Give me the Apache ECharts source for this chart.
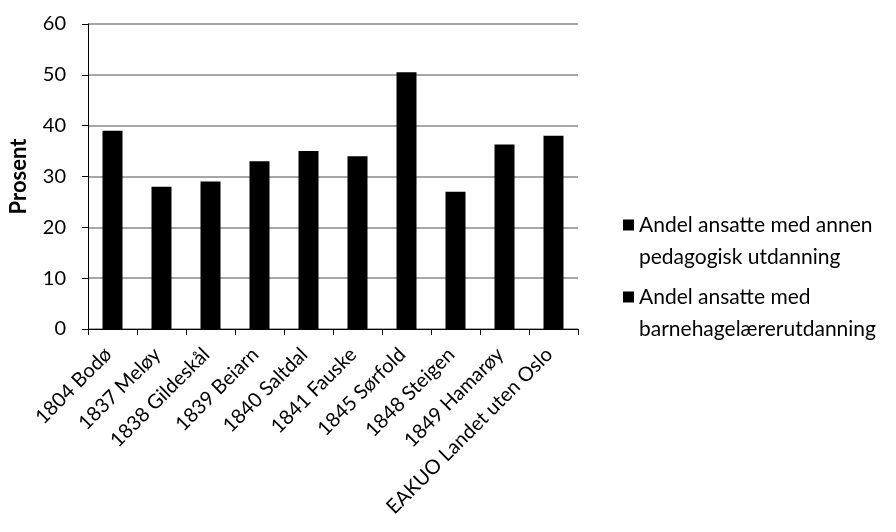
<!DOCTYPE html>
<html>
<head>
<meta charset="utf-8">
<script src="https://cdn.jsdelivr.net/npm/echarts@6/dist/echarts.min.js"></script>
<style>
html,body{margin:0;padding:0;background:#fff;}
#chart{width:896px;height:532px;}
</style>
</head>
<body>
<div id="chart"></div>
<script>
const categories = ["1804 Bodø","1837 Meløy","1838 Gildeskål","1839 Beiarn","1840 Saltdal","1841 Fauske","1845 Sørfold","1848 Steigen","1849 Hamarøy","EAKUO Landet uten Oslo"];
const seriesNames = ["Andel ansatte med annen pedagogisk utdanning","Andel ansatte med barnehagelærerutdanning"];
const legendLabels = ["Andel ansatte med annen\npedagogisk utdanning","Andel ansatte med\nbarnehagelærerutdanning"];
const barnehagelaerer = [39,28,29,33,35,34,50.5,27,36.3,38];
const annenPedagogisk = [];
const yTicks = [0,10,20,30,40,50,60];

const FONT = "Lato";
const chart = echarts.init(document.getElementById('chart'), null, {renderer:'canvas'});
const legendCommon = {
  orient:'vertical', left:618, icon:'rect', itemWidth:11, itemHeight:11,
  selectedMode:false,
  formatter: n => "\n" + legendLabels[seriesNames.indexOf(n)],
  textStyle:{fontFamily:FONT, fontSize:21, color:'#000', lineHeight:32}
};
chart.setOption({
  backgroundColor:'#fff',
  animation:false,
  grid:{left:88, right:318, top:24, bottom:203, containLabel:false},
  legend:[
    Object.assign({}, legendCommon, {top:172, data:[seriesNames[0]]}),
    Object.assign({}, legendCommon, {top:244, data:[seriesNames[1]]})
  ],
  xAxis:{
    type:'category', data:categories,
    axisLine:{lineStyle:{color:'#000', width:1}},
    axisTick:{show:true, length:6, lineStyle:{color:'#000'}},
    axisLabel:{interval:0, rotate:45, fontFamily:FONT, fontSize:20, color:'#000', margin:18, padding:[0,6,0,0]}
  },
  yAxis:{
    type:'value', min:yTicks[0], max:yTicks[yTicks.length-1], interval:10,
    name:'Prosent', nameLocation:'middle', nameGap:58, nameRotate:90,
    nameTextStyle:{fontFamily:FONT, fontSize:22, fontWeight:'bold', color:'#000'},
    axisLine:{show:true, lineStyle:{color:'#000'}},
    axisTick:{show:true, length:6, lineStyle:{color:'#000'}},
    axisLabel:{fontFamily:FONT, fontSize:20, color:'#000', margin:22},
    splitLine:{show:true, lineStyle:{color:'#8a8a8a', width:1.5}}
  },
  series:[
    {name:seriesNames[0], type:'bar', stack:'a', data:annenPedagogisk, barWidth:20, itemStyle:{color:'#000'}},
    {name:seriesNames[1], type:'bar', stack:'a', data:barnehagelaerer, barWidth:20, itemStyle:{color:'#000'}}
  ]
});
</script>
</body>
</html>
